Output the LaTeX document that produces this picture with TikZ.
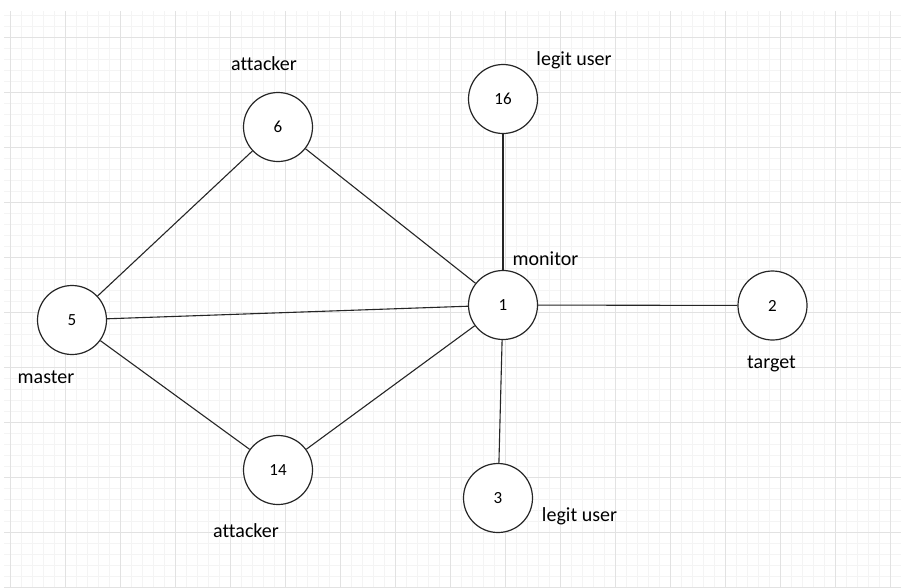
\documentclass[tikz,border=0pt]{standalone}
\usepackage{fontspec}
\setmainfont[Ligatures={NoCommon}]{Carlito}
\definecolor{gridminor}{HTML}{F4F4F4}
\definecolor{gridmajor}{HTML}{E2E2E2}
\tikzset{
  hostnode/.style={circle, draw=black!85, line width=1.2pt, fill=white,
    minimum size=69pt, inner sep=0pt, font=\fontsize{17}{20}\selectfont},
  role/.style={anchor=base, inner sep=0pt, font=\fontsize{20}{24}\selectfont},
  link/.style={draw=black!85, line width=1.1pt},
}
\begin{document}
\begin{tikzpicture}[x=1pt, y=-1pt]
  \useasboundingbox (0,0) rectangle (901,587);
  \fill[white] (0,0) rectangle (901,587);
  % background grid: fine lines every 11 units, heavier every 55
  \foreach \k in {0,...,81}
    \draw[gridminor, line width=0.8pt] ({10+11*\k},11) -- ({10+11*\k},587);
  \foreach \k in {0,...,52}
    \draw[gridminor, line width=0.8pt] (4,{15+11*\k}) -- (901,{15+11*\k});
  \foreach \k in {0,...,16}
    \draw[gridmajor, line width=0.9pt] ({10+55*\k},11) -- ({10+55*\k},587);
  \foreach \k in {0,...,10}
    \draw[gridmajor, line width=0.9pt] (4,{37+55*\k}) -- (901,{37+55*\k});

  % hosts
  \node[hostnode] (n1)  at (503,305)   {1};
  \node[hostnode] (n2)  at (772.5,305.5) {2};
  \node[hostnode] (n5)  at (72,320)    {5};
  \node[hostnode] (n6)  at (278,127)   {6};
  \node[hostnode] (n14) at (278,470)   {14};
  \node[hostnode] (n16) at (503,99)    {16};
  \node[hostnode] (n3)  at (498,498)   {3};

  % links
  \draw[link] (n1) -- (n16);
  \draw[link] (n1) -- (n2);
  \draw[link] (n1) -- (n3);
  \draw[link] (n1) -- (n5);
  \draw[link] (n1) -- (n6);
  \draw[link] (n1) -- (n14);
  \draw[link] (n5) -- (n6);
  \draw[link] (n5) -- (n14);

  % roles
  \node[role] (l6)  at (264,70.5)  {attacker};
  \node[role] (l16) at (574,65)    {legit user};
  \node[role] (l1)  at (545.5,265) {monitor};
  \node[role] (l2)  at (771.5,368) {target};
  \node[role] (l5)  at (46,383.5)  {master};
  \node[role] (l14) at (246,537)   {attacker};
  \node[role] (l3)  at (579.5,521.5) {legit user};
\end{tikzpicture}
\end{document}
